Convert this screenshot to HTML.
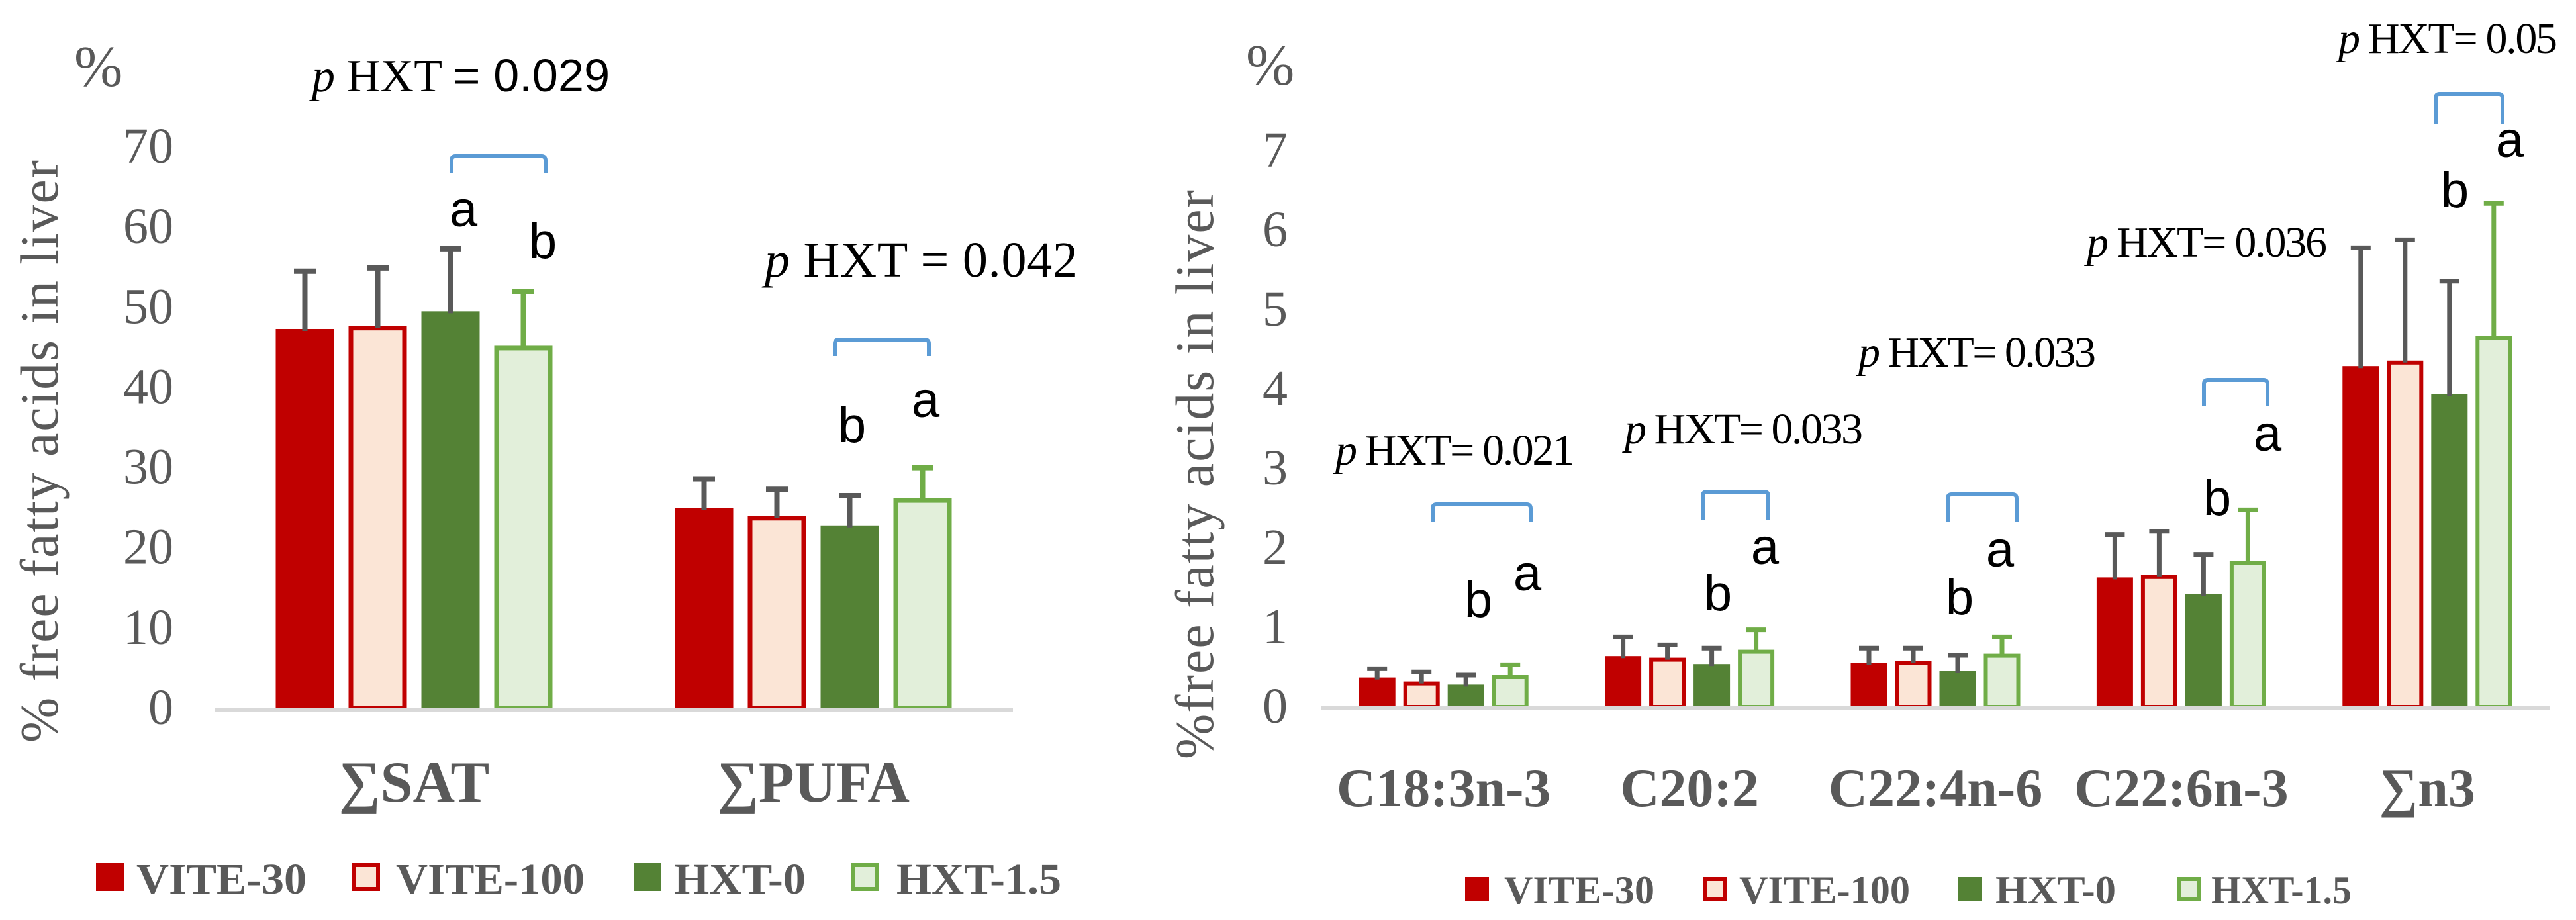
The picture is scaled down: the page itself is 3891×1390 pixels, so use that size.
<!DOCTYPE html>
<html><head><meta charset="utf-8"><style>
html,body{margin:0;padding:0;background:#fff}
svg{display:block}
text{font-family:"Liberation Serif",serif}
text.sans,tspan.sans{font-family:"Liberation Sans",sans-serif}
</style></head><body>
<svg id="c" width="3891" height="1390" viewBox="0 0 3891 1390" xmlns="http://www.w3.org/2000/svg"></svg>
<script>
// ---- data ----
const seriesNames = ["VITE-30","VITE-100","HXT-0","HXT-1.5"];
const leftCategories = ["∑SAT","∑PUFA"];
const leftTicks = [0,10,20,30,40,50,60,70];
const leftVITE30 = [47.3,25.0];
const leftVITE100 = [47.7,24.0];
const leftHXT0 = [49.5,22.8];
const leftHXT15 = [45.2,26.2];
const leftErrTop30 = [54.5,28.6];
const leftErrTop100 = [54.9,27.3];
const leftErrTop0 = [57.3,26.5];
const leftErrTop15 = [52.0,30.0];

const rightCategories = ["C18:3n-3","C20:2","C22:4n-6","C22:6n-3","∑n3"];
const rightTicks = [0,1,2,3,4,5,6,7];
const rightVITE30 = [0.37,0.64,0.55,1.63,4.29];
const rightVITE100 = [0.32,0.62,0.58,1.66,4.36];
const rightHXT0 = [0.28,0.54,0.45,1.42,3.94];
const rightHXT15 = [0.40,0.72,0.67,1.84,4.67];
const rightErrTop30 = [0.48,0.88,0.74,2.17,5.78];
const rightErrTop100 = [0.44,0.78,0.74,2.21,5.88];
const rightErrTop0 = [0.40,0.74,0.65,1.92,5.36];
const rightErrTop15 = [0.53,0.97,0.88,2.48,6.34];

const NS="http://www.w3.org/2000/svg";
const svg=document.getElementById('c');
function mk(tag,attrs,parent){const e=document.createElementNS(NS,tag);for(const k in attrs)e.setAttribute(k,attrs[k]);(parent||svg).appendChild(e);return e;}
const styles=[{fill:"#c00000",stroke:null,err:"#595959"},{fill:"#fbe5d6",stroke:"#c00000",err:"#595959"},{fill:"#548235",stroke:null,err:"#595959"},{fill:"#e2efda",stroke:"#70ad47",err:"#70ad47"}];

function drawChart(cfg){
  const g=mk('g',{});
  
  
  const y=v=>cfg.base-(v/cfg.max)*(cfg.base-cfg.top);
  const n=cfg.cats.length, gw=(cfg.x1-cfg.x0)/n;
  const cx=i=>cfg.x0+gw*(i+0.5);
  cfg.ticks.forEach(t=>{
    const e=mk('text',{x:cfg.tickX,y:y(t)+24,'text-anchor':'end','font-size':cfg.tickFs,fill:'#595959'},g);
    e.textContent=t;
    
    
  });
  const vals=[cfg.v[0],cfg.v[1],cfg.v[2],cfg.v[3]];
  const tops=[cfg.e[0],cfg.e[1],cfg.e[2],cfg.e[3]];
  for(let i=0;i<n;i++){
    for(let s=0;s<4;s++){
      const bx=cx(i)+(s-1.5)*cfg.pitch-cfg.bw/2, by=y(vals[s][i]), h=cfg.base-by;
      const st=styles[s];
      let r;
      if(st.stroke){const sw=cfg.sw;r=mk('rect',{x:bx+sw/2,y:by+sw/2,width:cfg.bw-sw,height:h-sw/2,fill:st.fill,stroke:st.stroke,'stroke-width':sw},g);}
      else r=mk('rect',{x:bx,y:by,width:cfg.bw,height:h,fill:st.fill},g);
      
      
      const ex=bx+cfg.bw/2, ey=y(tops[s][i]);
      const el=mk('path',{d:`M${ex},${by+3}V${ey}M${ex-cfg.cap/2},${ey}H${ex+cfg.cap/2}`,stroke:st.err,'stroke-width':cfg.ew,fill:'none'},g);
      
      
    }
    const lab=mk('text',{x:cx(i),y:cfg.catY,'text-anchor':'middle','font-size':cfg.catFs,'font-weight':'bold',fill:'#595959'},g);
    lab.textContent=cfg.cats[i];
    
    
  }
  const ax=mk('line',{x1:cfg.x0,x2:cfg.x1,y1:cfg.base+2,y2:cfg.base+2,stroke:'#d9d9d9','stroke-width':6},g);
  
  
}

drawChart({name:'left-chart',cats:leftCategories,ticks:leftTicks,max:70,base:1070,top:222,x0:324,x1:1530,tickX:262,tickFs:76,
  v:[leftVITE30,leftVITE100,leftHXT0,leftHXT15],e:[leftErrTop30,leftErrTop100,leftErrTop0,leftErrTop15],
  pitch:110,bw:88,sw:7,cap:33,ew:8,catY:1211,catFs:88});
drawChart({name:'right-chart',cats:rightCategories,ticks:rightTicks,max:7,base:1068,top:228,x0:1995,x1:3852,tickX:1945,tickFs:76,
  v:[rightVITE30,rightVITE100,rightHXT0,rightHXT15],e:[rightErrTop30,rightErrTop100,rightErrTop0,rightErrTop15],
  pitch:67,bw:55,sw:6,cap:30,ew:7,catY:1218,catFs:82});

function txt(x,y,s,fs,name,opts){const e=mk('text',Object.assign({x:x,y:y,'font-size':fs,fill:'#000'},opts||{}));e.innerHTML=s;return e;}
function bracket(x1,x2,y1,y2){const p=mk('path',{d:`M${x1},${y2}V${y1+6}Q${x1},${y1} ${x1+6},${y1}H${x2-6}Q${x2},${y1} ${x2},${y1+6}V${y2}`,stroke:'#5b9bd5','stroke-width':6,fill:'none'});}
txt(112,130,'%',88,'y-unit-label',{fill:'#595959'});
txt(471,138,'<tspan font-style="italic">p</tspan> HXT <tspan class="sans">= 0.029</tspan>',70,'p-value-sat',{textLength:450});
txt(1155,418,'<tspan font-style="italic">p</tspan> HXT = 0.042',76,'p-value-pufa',{textLength:473});
bracket(682,824,236,262);bracket(1261,1403,513,538);
const sans={'class':'sans','text-anchor':'middle'};
txt(700,342,'a',76,'sig-letter',sans);txt(820,390,'b',76,'sig-letter',sans);
txt(1287,668,'b',76,'sig-letter',sans);txt(1398,630,'a',76,'sig-letter',sans);
txt(0,0,'% free fatty acids in liver',82,'y-axis-title',{fill:'#595959','text-anchor':'middle',transform:'translate(87,682) rotate(-90)',textLength:880});
txt(1882,128,'%',88,'y-unit-label',{fill:'#595959'});
const rp=[[2017,702,'0.021',361],[2454,670,'0.033',360],[2807,554,'0.033',359],[3152,388,'0.036',363],[3532,80,'0.05',331]];
rp.forEach(r=>txt(r[0],r[1],'<tspan font-style="italic">p</tspan> HXT= '+r[2],66,'p-value-label',{textLength:r[3]}));
bracket(2164,2312,762,789);bracket(2572,2671,743,785);bracket(2942,3046,747,789);bracket(3329,3425,574,614);bracket(3679,3780,142,188);
const rl=[[2233,932,'b'],[2307,892,'a'],[2595,922,'b'],[2666,852,'a'],[2960,928,'b'],[3021,856,'a'],[3349,778,'b'],[3425,681,'a'],[3708,313,'b'],[3791,237,'a']];
rl.forEach(r=>txt(r[0],r[1],r[2],76,'sig-letter',sans));
txt(0,0,'%free fatty acids in liver',82,'y-axis-title',{fill:'#595959','text-anchor':'middle',transform:'translate(1832,717) rotate(-90)',textLength:860});

function legend(items){items.forEach((it,s)=>{
  const st=styles[s];
  let r;
  if(st.stroke) r=mk('rect',{x:it[0]+3,y:it[1]+3,width:it[2]-6,height:it[2]-6,fill:st.fill,stroke:st.stroke,'stroke-width':6});
  else r=mk('rect',{x:it[0],y:it[1],width:it[2],height:it[2],fill:st.fill});
  
  
  const t=mk('text',{x:it[3],y:it[1]+it[2]+4,'font-size':it[5],'font-weight':'bold',fill:'#595959',textLength:it[4],lengthAdjust:'spacingAndGlyphs'});
  t.textContent=seriesNames[s];
  
  
});}
legend([[145,1304,42,206,257,66],[532,1304,42,598,285,66],[957,1304,42,1018,199,66],[1285,1304,42,1354,249,66]]);
legend([[2213,1325,36,2272,227,60],[2572,1325,36,2627,258,60],[2958,1325,36,3014,182,60],[3288,1325,36,3340,212,60]]);
</script>
</body></html>
